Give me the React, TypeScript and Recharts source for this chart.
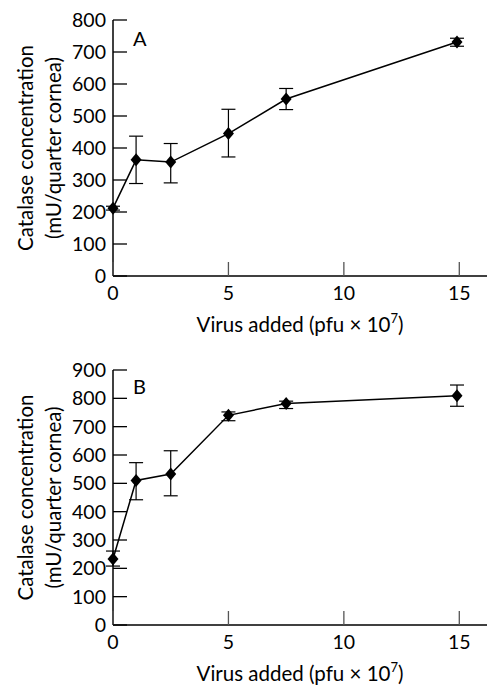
import { LineChart, Line, XAxis, YAxis, ErrorBar } from 'recharts'

const virusAdded = [0, 1, 2.5, 5, 7.5, 14.9]

// panel A
const catalaseA = [212, 363, 356, 445, 553, 731]
const lowA = [206, 289, 291, 372, 520, 718]
const highA = [218, 437, 414, 521, 586, 743]

// panel B
const catalaseB = [233, 510, 533, 740, 782, 809]
const lowB = [208, 442, 456, 721, 764, 772]
const highB = [261, 573, 615, 752, 790, 847]

const xTicks = [0, 5, 10, 15]
const yTicksA = [0, 100, 200, 300, 400, 500, 600, 700, 800]
const yTicksB = [0, 100, 200, 300, 400, 500, 600, 700, 800, 900]

const FONT = 'Lato, "Open Sans", sans-serif'

const build = (vals: number[], low: number[], high: number[]) =>
  virusAdded.map((x, i) => ({
    x,
    y: vals[i],
    err: [vals[i] - low[i], high[i] - vals[i]],
  }))

const dataA = build(catalaseA, lowA, highA)
const dataB = build(catalaseB, lowB, highB)

const YTick = (props: any) => {
  const { x, y, payload } = props
  return (
    <g>
      <line x1={x} y1={y} x2={x + 14} y2={y} stroke="#000" strokeWidth={1.3} />
      <text x={x - 7} y={y + 7} textAnchor="end" fontSize={19.5} fontFamily={FONT} fill="#000">
        {payload.value}
      </text>
    </g>
  )
}

const XTick = (props: any) => {
  const { x, y, payload } = props
  return (
    <g>
      <line x1={x} y1={y} x2={x} y2={y - 14} stroke="#555" strokeWidth={1.3} />
      <text x={x} y={y + 24} textAnchor="middle" fontSize={19.5} fontFamily={FONT} fill="#000">
        {payload.value}
      </text>
    </g>
  )
}

const Diamond = (props: any) => {
  const { cx, cy } = props
  if (cx == null || cy == null) return null
  return (
    <polygon
      points={`${cx},${cy - 6.5} ${cx + 5.5},${cy} ${cx},${cy + 6.5} ${cx - 5.5},${cy}`}
      fill="#000"
    />
  )
}

const YLabel = (props: any) => {
  const { viewBox } = props
  const cy = viewBox.y + viewBox.height / 2
  return (
    <g fontFamily={FONT} fontSize={20.5} fill="#000">
      <text x={33} y={cy} textAnchor="middle" transform={`rotate(-90, 33, ${cy})`}>
        Catalase concentration
      </text>
      <text x={61} y={cy} textAnchor="middle" transform={`rotate(-90, 61, ${cy})`}>
        (mU/quarter cornea)
      </text>
    </g>
  )
}

const XLabel = (props: any) => {
  const { viewBox } = props
  const cx = viewBox.x + viewBox.width / 2
  return (
    <text x={cx} y={viewBox.y + 56} textAnchor="middle" fontFamily={FONT} fontSize={20.5} fill="#000">
      <tspan>Virus added (pfu × 10</tspan>
      <tspan dy={-9} fontSize={13}>7</tspan>
      <tspan dy={9}>)</tspan>
    </text>
  )
}

function Panel({ data, ticks, max, height, top, bottom, letter, letterY }: any) {
  return (
    <div style={{ position: 'relative', width: 487, height }}>
      <LineChart width={487} height={height} data={data} margin={{ top, right: 0, bottom: 0, left: 0 }}>
        <XAxis
          dataKey="x"
          type="number"
          domain={[0, 16.2]}
          ticks={xTicks}
          tick={<XTick />}
          tickLine={false}
          tickSize={0}
          tickMargin={0}
          height={bottom}
          axisLine={{ stroke: '#000', strokeWidth: 1.5 }}
          label={<XLabel />}
        />
        <YAxis
          type="number"
          domain={[0, max]}
          ticks={ticks}
          tick={<YTick />}
          tickLine={false}
          tickSize={0}
          tickMargin={0}
          width={113}
          interval={0}
          axisLine={{ stroke: '#000', strokeWidth: 1.5 }}
          label={<YLabel />}
        />
        <Line
          dataKey="y"
          stroke="#000"
          strokeWidth={1.5}
          dot={<Diamond />}
          activeDot={false}
          isAnimationActive={false}
        >
          <ErrorBar dataKey="err" width={7} stroke="#000" strokeWidth={1.2} direction="y" />
        </Line>
      </LineChart>
      <div
        style={{
          position: 'absolute',
          left: 133,
          top: letterY,
          fontFamily: FONT,
          fontSize: 20,
          lineHeight: '20px',
          color: '#000',
        }}
      >
        {letter}
      </div>
    </div>
  )
}

export default function App() {
  return (
    <div style={{ position: 'absolute', left: 0, top: 0, width: 487, height: 687, background: '#fff' }}>
      <Panel data={dataA} ticks={yTicksA} max={800} height={340} top={20} bottom={64} letter="A" letterY={28} />
      <Panel data={dataB} ticks={yTicksB} max={900} height={347} top={30} bottom={62} letter="B" letterY={36} />
    </div>
  )
}
